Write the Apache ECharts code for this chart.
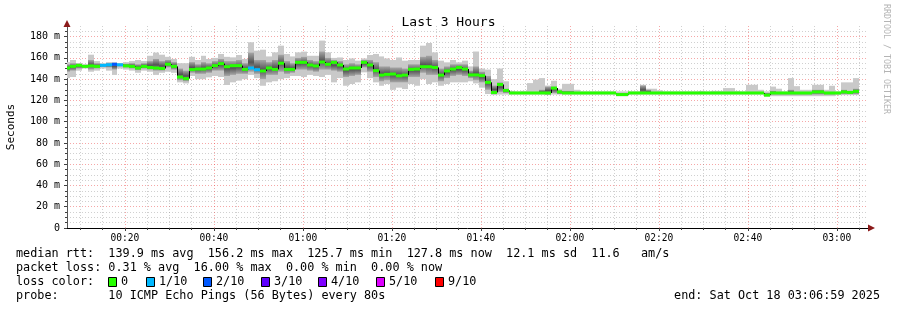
<!DOCTYPE html>
<html><head><meta charset="utf-8">
<script src="https://cdn.jsdelivr.net/npm/echarts@6/dist/echarts.min.js"></script>
<style>html,body{margin:0;padding:0;background:#fff}#c{width:897px;height:310px}</style>
</head><body><div id="c"></div>
<script>
// ---- data (ms, one value per 80 s step) ----
const START_S = 380;   // first step starts 00:06:20
const STEP_S = 80;
const median = [
150.5,152,153,152,152.5,152,153,153.5,154,153.5,
152.5,152,150.5,152,151,150.5,150,154,152,142,
140.5,149,149.5,149.5,150.5,152.7,154.6,151.7,152.7,152.7,
149.2,150.5,148.9,147.7,150.5,149.2,155,149.2,149.2,155.8,
155.8,153.3,152.4,156.1,154,155.8,153.3,149.5,150.5,150.5,
155.8,153.3,148,143.8,144.5,144.8,143.2,143.8,149.2,149.5,
151.7,151.7,151,143.8,147.7,149.5,151,149.5,144,144,
143.3,137,127.5,135,129.4,127,127,127,127,127,
127,127,131.6,128,127,127,127,127,127,127,
127,127,127,125.5,125.5,127,127,127,127,127,
127,127,127,127,127,127,127,127,127,127,
127,127,127,127,127,127,127,127,125,127,
127,127,127,127,127,127,128,128,127,127,
127,128,127.5,128.5];
const smokeHi = [
156,158,155,154,163,157,155,156,156,155,
156,157,158,157,162,165,163,161,159,155,
155,161,158,162,159,160,163.7,161,160.5,162.7,
159,174.7,166.8,167.7,161.4,165.2,171.5,163.7,161.4,165.2,
165.9,162,162,176.3,165.2,160,160.4,158,159.5,157.4,
159.5,162.7,163.7,161.4,159.5,158,160.4,157.4,158,158,
171.5,174,165.2,157.4,155.8,158,155.8,157.4,152,166,
150,149,140,150,138,129,128.5,129,136.3,139.5,
141,134,138.5,131,135.6,135.6,130,128.5,128.5,128.5,
128.5,128.5,128.5,128.5,128.5,128.5,128.5,134.7,131,131,
129.5,128.5,128.5,128.5,128.5,128.5,128.5,129,128.5,129,
129,131.6,131.6,129,128.5,134.7,134.7,130,128.5,133,
131,128.5,141,133.4,130,130,134.7,134.7,130,133.8,
128.5,137,137,141];
const smokeLo = [
141,142,148,150,147,148,150,148,144,150,
149,148,146,148,147,144,146,147,146,137,
136,143,140,140,141.7,143,142,134.5,137,138.6,
140,144,141,133.8,137,138,140,141,143,143,
142,144,143,142,144,137,141,133.8,135.4,137,
146.4,141,137,133.8,135.4,130,132,130.7,135.4,133.8,
140,135.4,137,133.8,135.4,137,137,137,138,136,
132,126,125,125.5,125.5,125.5,125.5,125.5,125.5,125.5,
125.5,125,125.5,125.5,125.5,125.5,125.5,125.5,125.5,125.5,
125.5,125.5,125.5,124,124,125.5,125.5,125.5,125.5,125.5,
125.5,125.5,125.5,125.5,125.5,125.5,125.5,125.5,125.5,125.5,
125.5,125.5,125.5,125.5,125.5,125.5,125.5,125.5,123.5,124,
124,124,124,124,124,124,124,124,124,124,
125,125,125,125];
const coreHi = [
154,155,154.5,153.5,158,155,154,155,155,154.5,
154.5,155,154,155,157,159,157,158,156,150,
148,156,154,156,155,157,159,157,157,158,
155,165,158,158,156,158,163,157,155,160,
161,158,157,166,160,158,157,154,155,154,
158,158,156,152,152,151,151,150,154,154,
161,162,158,150,152,154,154,154,148,152,
147,143,134,137,131,128,128,128,128,128,
130,133,133,129.5,129,129,128,128,128,128,
128,128,128,127,127,128,128,134,130,128,
128,128,128,128,128,128,128,128,128,128,
128,128,128,128,128,128,128,128,127,129,
128,128,130,128,128,128,130,130,128,128,
128,130,129,131];
const coreLo = [
147,148,150,151,149,150,151.5,151,149,152,
151,150,148.5,150,149,148,148,151,149,139,
138,146,145,145,146,148,148,143,144,145,
145,147,145,140,144,144,147,145,146,149,
149,148,147,149,149,148,147,142,143,144,
151,147,142,138,139,137,137,137,142,142,
146,144,144,138,141,143,144,143,141,139,
137,130,126.5,128,127,126,126,126,126,126,
126,125.5,127,126,126,126,126,126,126,126,
126,126,126,124.5,124.5,126,126,126,126,126,
126,126,126,126,126,126,126,126,126,126,
126,126,126,126,126,126,126,126,124.5,125.5,
125.5,125.5,125.5,125.5,125.5,125.5,125.5,125.5,125.5,125.5,
126,126,126,126];
const lossCount = [
0,0,0,0,0,0,1,1,2,1, 0,0,0,0,0,0,0,0,0,0,
0,0,0,0,0,0,0,0,0,0, 0,1,1,0,0,0,0,0,0,0,
0,0,0,0,0,0,0,0,0,0, 0,0,0,0,0,0,0,0,0,0,
0,0,0,0,0,0,0,0,0,0, 0,0,0,0,0,0,0,0,0,0,
0,0,0,0,0,0,0,0,0,0, 0,0,0,0,0,0,0,0,0,0,
0,0,0,0,0,0,0,0,0,0, 0,0,0,0,0,0,0,0,0,0,
0,0,0,0,0,0,0,0,0,0, 0,0,0,0];

// axis ticks (minutes after 00:00, ms)
const xMajorTicks = [20,40,60,80,100,120,140,160,180];
const xMajorLabels = ['00:20','00:40','01:00','01:20','01:40','02:00','02:20','02:40','03:00'];
const yMajorTicks = [0,20,40,60,80,100,120,140,160,180];
const yMajorLabels = ['0','20 m','40 m','60 m','80 m','100 m','120 m','140 m','160 m','180 m'];
const X_MIN = 7, X_MAX = 187, Y_MIN = 0, Y_MAX = 190;

const lossLegendLabels = ['0','1/10','2/10','3/10','4/10','5/10','9/10'];
const lossLegendColors = ['#26ff00','#00b8ff','#0059ff','#5e00ff','#7e00ff','#dd00ff','#ff0000'];

const statLines = [
  'median rtt:  139.9 ms avg  156.2 ms max  125.7 ms min  127.8 ms now  12.1 ms sd  11.6   am/s',
  'packet loss: 0.31 % avg  16.00 % max  0.00 % min  0.00 % now',
  'loss color:',
  'probe:       10 ICMP Echo Pings (56 Bytes) every 80s'
];
const endText = 'end: Sat Oct 18 03:06:59 2025';
const titleText = 'Last 3 Hours';
const yName = 'Seconds';
const sideText = 'RRDTOOL / TOBI OETIKER';

// ---- build ----
function lossColor(n){
  if (n <= 0) return lossLegendColors[0];
  if (n === 1) return lossLegendColors[1];
  if (n === 2) return lossLegendColors[2];
  if (n === 3) return lossLegendColors[3];
  if (n === 4) return lossLegendColors[4];
  if (n <= 8) return lossLegendColors[5];
  return lossLegendColors[6];
}
const minutesOf = i => (START_S + i * STEP_S) / 60;
const smokeData = median.map((m, i) => [minutesOf(i), minutesOf(i + 1), smokeLo[i], smokeHi[i], coreLo[i], coreHi[i]]);
const medData = median.map((m, i) => [minutesOf(i), minutesOf(i + 1), m, i > 0 ? median[i - 1] : m, lossCount[i]]);

const xMinor = [], yMinor = [];
for (let v = 10; v < X_MAX; v += 5) if (v % 20) xMinor.push(v);
for (let v = 5; v < Y_MAX; v += 5) if (v % 20) yMinor.push(v);

const MONO = '"DejaVu Sans Mono", monospace';
const minorLine = {show:true, lineStyle:{color:'rgba(120,120,120,0.35)', type:[1,2], width:1}};
const majorLine = {show:true, lineStyle:{color:'rgba(235,60,60,0.45)', type:[1,2], width:1}};

const chart = echarts.init(document.getElementById('c'), null, {renderer:'canvas'});
const grid = {left:67, top:26, width:801, height:202};

const gradient = new echarts.graphic.LinearGradient(0,0,0,1,[
  {offset:0,color:'#a6a6a6'},{offset:0.5,color:'#555555'},{offset:1,color:'#a6a6a6'}]);

const graphics = [];
// axis arrows (dark red, as in rrdtool)
graphics.push({type:'polygon', shape:{points:[[868,224.5],[875,228],[868,231.5]]}, style:{fill:'#8b1a1a'}, z:10});
graphics.push({type:'polygon', shape:{points:[[63.5,27],[67,20],[70.5,27]]}, style:{fill:'#8b1a1a'}, z:10});
// y axis name
graphics.push({type:'text', x:11, y:127, rotation:Math.PI/2,
  style:{text:yName, x:0, y:0, align:'center', verticalAlign:'middle', font:'11px ' + MONO, fill:'#000'}});
// side text
graphics.push({type:'text', x:886, y:59, rotation:-Math.PI/2,
  style:{text:sideText, x:0, y:0, align:'center', verticalAlign:'middle', font:'8.3px ' + MONO, fill:'#b4b4b4'}});
// stats lines
const lineY = [254, 268, 282, 296];
statLines.forEach((t, k) => graphics.push({type:'text', x:16, y:lineY[k],
  style:{text:t, x:0, y:0, align:'left', verticalAlign:'middle', font:'11.8px ' + MONO, fill:'#000'}}));
graphics.push({type:'text', x:880, y:296,
  style:{text:endText, x:0, y:0, align:'right', verticalAlign:'middle', font:'11.8px ' + MONO, fill:'#000'}});
// loss legend boxes
const boxX = [108, 146, 203, 261, 318, 376, 435];
lossLegendLabels.forEach((lab, k) => {
  graphics.push({type:'rect', shape:{x:boxX[k] + 0.5, y:277.5, width:8, height:9},
    style:{fill:lossLegendColors[k], stroke:'#000', lineWidth:1}});
  graphics.push({type:'text', x:boxX[k] + 13, y:282,
    style:{text:lab, x:0, y:0, align:'left', verticalAlign:'middle', font:'11.8px ' + MONO, fill:'#000'}});
});

chart.setOption({
  animation:false,
  backgroundColor:'#ffffff',
  title:{text:titleText, left:'center', top:11, textStyle:{fontFamily:MONO, fontSize:13, fontWeight:'normal', color:'#000'}},
  grid:grid,
  xAxis:[
    {type:'value', min:X_MIN, max:X_MAX, position:'bottom',
     axisLine:{show:true, lineStyle:{color:'#000', width:1}},
     axisTick:{show:true, length:2, customValues:xMinor, lineStyle:{color:'#404040'}},
     axisLabel:{show:false},
     splitLine:minorLine},
    {type:'value', min:X_MIN, max:X_MAX, position:'bottom',
     axisLine:{show:false},
     axisTick:{show:true, length:3, customValues:xMajorTicks, lineStyle:{color:'#404040'}},
     axisLabel:{show:true, customValues:xMajorTicks, margin:5, fontFamily:MONO, fontSize:9.6, color:'#000',
       formatter:v => xMajorLabels[xMajorTicks.indexOf(v)] || ''},
     splitLine:majorLine}
  ],
  yAxis:[
    {type:'value', min:Y_MIN, max:Y_MAX, position:'left',
     axisLine:{show:true, lineStyle:{color:'#555', width:1}},
     axisTick:{show:true, length:2, customValues:yMinor, lineStyle:{color:'#404040'}},
     axisLabel:{show:false},
     splitLine:minorLine},
    {type:'value', min:Y_MIN, max:Y_MAX, position:'left',
     axisLine:{show:false},
     axisTick:{show:true, length:3, customValues:yMajorTicks, lineStyle:{color:'#404040'}},
     axisLabel:{show:true, customValues:yMajorTicks, margin:7, fontFamily:MONO, fontSize:10, color:'#000',
       formatter:v => yMajorLabels[yMajorTicks.indexOf(v)] || ''},
     splitLine:majorLine}
  ],
  graphic:graphics,
  series:[
    {type:'custom', name:'smoke', xAxisIndex:0, yAxisIndex:0, clip:true, z:2,
     encode:{x:[0,1], y:[2,3]},
     data:smokeData,
     renderItem:function(params, api){
       const x0 = Math.round(api.coord([api.value(0), 0])[0]);
       const x1 = Math.round(api.coord([api.value(1), 0])[0]);
       const yLo = api.coord([X_MIN, api.value(2)])[1];
       const yHi = api.coord([X_MIN, api.value(3)])[1];
       const yLo2 = api.coord([X_MIN, api.value(4)])[1];
       const yHi2 = api.coord([X_MIN, api.value(5)])[1];
       return {type:'group', children:[
         {type:'rect', shape:{x:x0, y:yHi, width:x1 - x0, height:yLo - yHi}, style:{fill:'#c9c9c9'}},
         {type:'rect', shape:{x:x0, y:yHi2, width:x1 - x0, height:yLo2 - yHi2}, style:{fill:gradient}}
       ]};
     }},
    {type:'custom', name:'median', xAxisIndex:0, yAxisIndex:0, clip:true, z:3,
     encode:{x:[0,1], y:[2]},
     data:medData,
     renderItem:function(params, api){
       const x0 = Math.round(api.coord([api.value(0), 0])[0]);
       const x1 = Math.round(api.coord([api.value(1), 0])[0]);
       const yM = api.coord([X_MIN, api.value(2)])[1];
       const yP = api.coord([X_MIN, api.value(3)])[1];
       const col = lossColor(api.value(4));
       return {type:'group', children:[
         {type:'line', shape:{x1:x0 + 0.5, y1:yP, x2:x0 + 0.5, y2:yM}, style:{stroke:'#000', lineWidth:1}},
         {type:'rect', shape:{x:x0, y:yM - 1.5, width:x1 - x0, height:3}, style:{fill:col}}
       ]};
     }}
  ]
});
</script></body></html>
